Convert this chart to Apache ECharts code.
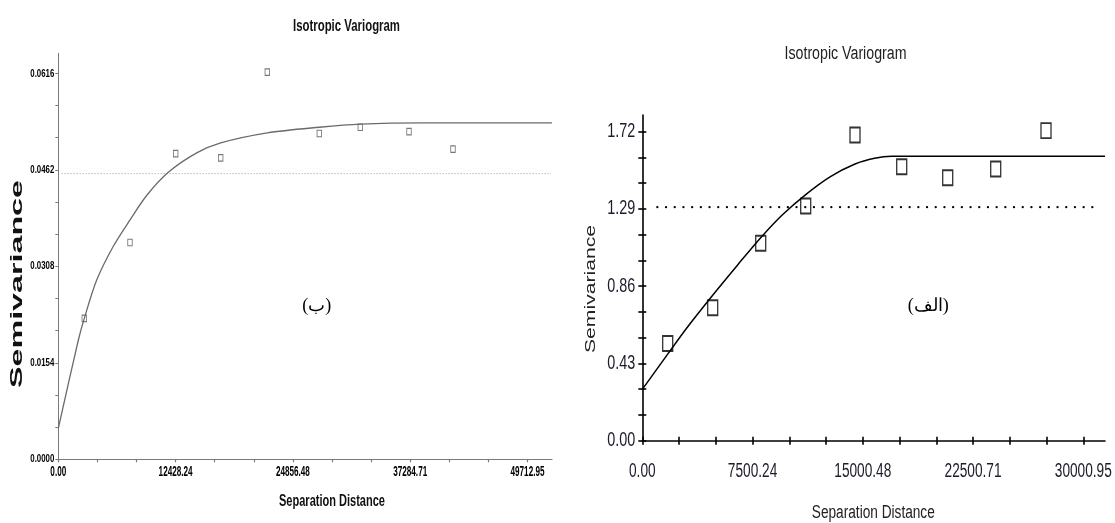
<!DOCTYPE html>
<html><head><meta charset="utf-8">
<script src="https://cdn.jsdelivr.net/npm/echarts@6.0.0/dist/echarts.min.js"></script>
<style>html,body{margin:0;padding:0;background:#fff}#c{width:1115px;height:523px}</style>
</head><body><div id="c"></div>
<script>
// ---------- Panel (ب) : left ----------
const leftXTickLabels = ['0.00', '12428.24', '24856.48', '37284.71', '49712.95'];
const leftYTickLabels = ['0.0000', '0.0154', '0.0308', '0.0462', '0.0616'];
const leftLagX = [2755, 7597, 12439, 17207, 22144, 27654, 31998, 37158, 41820];
const leftLagY = [0.0225, 0.0346, 0.0488, 0.0481, 0.0618, 0.0520, 0.0530, 0.0523, 0.0495];
const leftModelX = [0, 2119, 2755, 4068, 5828, 7597, 9363, 11655, 14664, 17207, 22144, 27654, 31998, 38673, 52300];
const leftModelY = [0.00495, 0.0190, 0.0225, 0.0286, 0.0340, 0.0382, 0.0421, 0.0458, 0.0489, 0.0505, 0.0521, 0.0530, 0.0535, 0.0537, 0.0537];
const leftSill = 0.0456;
const leftXMax = 52308;
const leftYMax = 0.0648;

// ---------- Panel (الف) : right ----------
const rightXTickLabels = ['0.00', '7500.24', '15000.48', '22500.71', '30000.95'];
const rightYTickLabels = ['0.00', '0.43', '0.86', '1.29', '1.72'];
const rightLagX = [1728, 4789, 8055, 11116, 14470, 17647, 20776, 24042, 27464];
const rightLagY = [0.541, 0.740, 1.099, 1.306, 1.702, 1.525, 1.464, 1.512, 1.726];
const rightModelX = [0, 1728, 3000, 4789, 6500, 8055, 9500, 11116, 12800, 14470, 15800, 16966, 31477];
const rightModelY = [0.286, 0.482, 0.625, 0.81, 0.98, 1.13, 1.255, 1.37, 1.47, 1.54, 1.572, 1.583, 1.583];
const rightSill = 1.30;
const rightXMax = 31477;
const rightYMax = 1.813;

const SANS = '"Liberation Sans",Arial,sans-serif';
const zip = (xs, ys) => xs.map((x, i) => [x, ys[i]]);
const majors = labels => labels.map(parseFloat);
function withMinors(labels, split) {
  const m = majors(labels), out = [];
  for (let i = 0; i < m.length; i++) {
    out.push(m[i]);
    if (i < m.length - 1) for (let k = 1; k < split; k++) out.push(m[i] + (m[i + 1] - m[i]) * k / split);
  }
  return out;
}
const ctx = document.createElement('canvas').getContext('2d');
function measure(text, font) { ctx.font = font; return ctx.measureText(text).width; }
function txt(text, x, y, font, scale, fill, align, rot) {
  return {
    type: 'text', x: x, y: y, rotation: rot || 0, scaleX: scale, scaleY: 1, z: 100, silent: true,
    style: { text: text, font: font, fill: fill, align: align || 'center', verticalAlign: 'middle', textAlign: align || 'center', textVerticalAlign: 'middle' }
  };
}
function fitTxt(text, x, y, font, target, fill, rot) { return txt(text, x, y, font, target / measure(text, font), fill, 'center', rot); }

const chart = echarts.init(document.getElementById('c'), null, { renderer: 'canvas' });
const leftAxisColor = '#7a7a7a';

function valueAxis(grid, max, ticks, color, width, tickLen, inside, showLine) {
  return {
    type: 'value', gridIndex: grid, min: 0, max: max,
    axisLine: { show: showLine, onZero: false, lineStyle: { color: color, width: width } },
    axisTick: { show: true, inside: inside, length: tickLen, customValues: ticks, lineStyle: { color: color, width: width } },
    axisLabel: { show: false }, splitLine: { show: false }
  };
}

chart.setOption({
  animation: false,
  backgroundColor: '#fff',
  grid: [
    { left: 58.3, top: 53.3, width: 493.7, height: 406, outerBoundsMode: 'none', containLabel: false },
    { left: 642.3, top: 115, width: 462.7, height: 325.7, outerBoundsMode: 'none', containLabel: false },
    { left: 642.3, top: 115, width: 462.7, height: 325.7, outerBoundsMode: 'none', containLabel: false }
  ],
  xAxis: [
    valueAxis(0, leftXMax, withMinors(leftXTickLabels, 3), leftAxisColor, 1.2, 3, false, true),
    valueAxis(1, rightXMax, withMinors(rightXTickLabels, 3), '#000', 1.6, 4, false, true),
    valueAxis(2, rightXMax, withMinors(rightXTickLabels, 3), '#000', 1.6, 4, true, false)
  ],
  yAxis: [
    valueAxis(0, leftYMax, withMinors(leftYTickLabels, 3), leftAxisColor, 1, 3, false, true),
    valueAxis(1, rightYMax, withMinors(rightYTickLabels, 3), '#000', 1.6, 4, false, true),
    valueAxis(2, rightYMax, withMinors(rightYTickLabels, 3), '#000', 1.6, 4, true, false)
  ],
  series: [
    {
      name: 'sillLeft', type: 'line', xAxisIndex: 0, yAxisIndex: 0, silent: true, showSymbol: false,
      data: [[350, leftSill], [52200, leftSill]],
      lineStyle: { color: '#9a9a9a', width: 1, type: [1, 2] }
    },
    {
      name: 'modelLeft', type: 'line', xAxisIndex: 0, yAxisIndex: 0, silent: true, showSymbol: false,
      smooth: 0.3, data: zip(leftModelX, leftModelY),
      lineStyle: { color: '#6a6a6a', width: 1.3 }
    },
    {
      name: 'lagsLeft', type: 'scatter', xAxisIndex: 0, yAxisIndex: 0, silent: true,
      symbol: 'rect', symbolSize: [4.5, 6.5], data: zip(leftLagX, leftLagY),
      itemStyle: { color: 'rgba(255,255,255,0)', borderColor: '#555', borderWidth: 1 }
    },
    {
      name: 'sillRight', type: 'line', xAxisIndex: 1, yAxisIndex: 1, silent: true, showSymbol: false,
      data: [[1020, rightSill], [31150, rightSill]],
      lineStyle: { color: '#000', width: 2.2, type: [0.1, 8.6], cap: 'round' }
    },
    {
      name: 'modelRight', type: 'line', xAxisIndex: 1, yAxisIndex: 1, silent: true, showSymbol: false,
      smooth: 0.3, data: zip(rightModelX, rightModelY),
      lineStyle: { color: '#000', width: 1.5 }
    },
    {
      name: 'lagsRight', type: 'scatter', xAxisIndex: 1, yAxisIndex: 1, silent: true,
      symbol: 'rect', symbolSize: [10, 15], data: zip(rightLagX, rightLagY),
      itemStyle: { color: 'rgba(255,255,255,0)', borderColor: '#000', borderWidth: 1.6 }
    }
  ]
});

// Tick labels, placed at the positions given by the chart's own axis scales
const g = [];
const fLY = 'bold 11.5px ' + SANS, sLY = 24 / measure('0.0616', fLY);
const fLX = 'bold 14px ' + SANS, sLX = 34 / measure('12428.24', fLX);
const fRY = '20px ' + SANS, sRY = 28 / measure('1.72', fRY);
const fRX = '20px ' + SANS, sRX = 57 / measure('30000.95', fRX);
majors(leftYTickLabels).forEach((v, i) => {
  const p = chart.convertToPixel({ gridIndex: 0 }, [0, v]);
  g.push(txt(leftYTickLabels[i], p[0] - 4, p[1], fLY, sLY, '#000', 'right'));
});
majors(leftXTickLabels).forEach((v, i) => {
  const p = chart.convertToPixel({ gridIndex: 0 }, [v, 0]);
  g.push(txt(leftXTickLabels[i], p[0], p[1] + 13, fLX, sLX, '#000', 'center'));
});
majors(rightYTickLabels).forEach((v, i) => {
  const p = chart.convertToPixel({ gridIndex: 1 }, [0, v]);
  g.push(txt(rightYTickLabels[i], p[0] - 7, p[1], fRY, sRY, '#1c1c2a', 'right'));
});
majors(rightXTickLabels).forEach((v, i) => {
  const p = chart.convertToPixel({ gridIndex: 1 }, [v, 0]);
  g.push(txt(rightXTickLabels[i], p[0], p[1] + 31, fRX, sRX, '#1c1c2a', 'center'));
});

g.push(
  fitTxt('Isotropic Variogram', 346.5, 27, 'bold 16px ' + SANS, 107, '#111'),
  fitTxt('Separation Distance', 332, 502, 'bold 16px ' + SANS, 106, '#111'),
  fitTxt('Semivariance', 18, 284, 'bold 16px ' + SANS, 208, '#111', Math.PI / 2),
  fitTxt('Isotropic Variogram', 845.5, 53.6, '18px ' + SANS, 122, '#222'),
  fitTxt('Separation Distance', 873.3, 513, '18px ' + SANS, 123, '#222'),
  fitTxt('Semivariance', 591, 289, '15px ' + SANS, 128, '#222', Math.PI / 2),
  txt('(ب)', 316.7, 306.7, '18px "Liberation Serif","DejaVu Serif",serif', 1, '#000', 'center'),
  txt('(الف)', 928.3, 306.7, '18px "Liberation Serif","DejaVu Serif",serif', 1, '#000', 'center')
);
chart.setOption({ graphic: g });
</script>
</body></html>
